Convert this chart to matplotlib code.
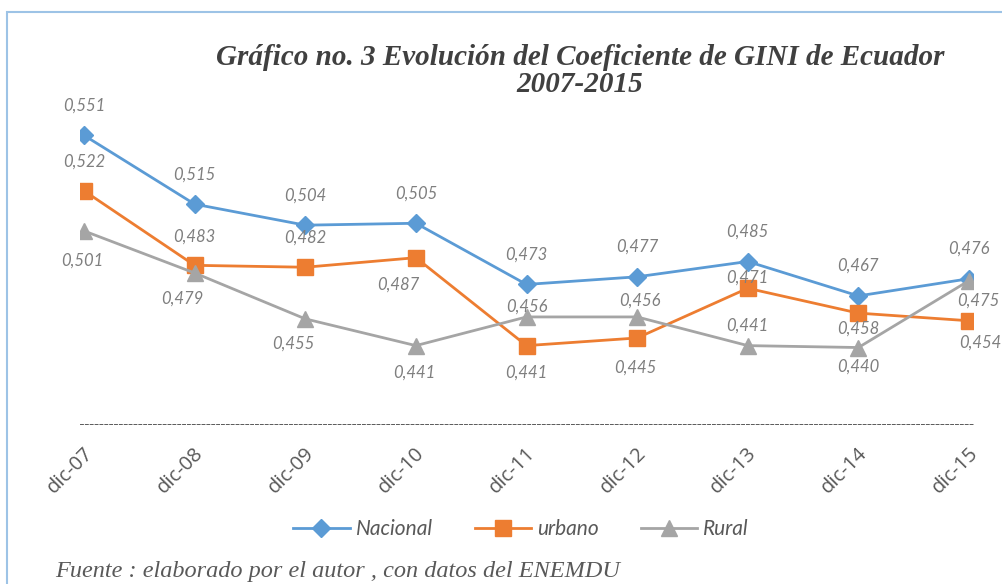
import matplotlib.pyplot as plt
from matplotlib.patches import Rectangle
from matplotlib.transforms import ScaledTranslation

# -----------------------------
# Datos (Coeficiente de GINI, Ecuador)
# -----------------------------
periodos = ["dic-07", "dic-08", "dic-09", "dic-10", "dic-11",
            "dic-12", "dic-13", "dic-14", "dic-15"]
nacional = [0.551, 0.515, 0.504, 0.505, 0.473, 0.477, 0.485, 0.467, 0.476]
urbano = [0.522, 0.483, 0.482, 0.487, 0.441, 0.445, 0.471, 0.458, 0.454]
rural = [0.501, 0.479, 0.455, 0.441, 0.456, 0.456, 0.441, 0.440, 0.475]

# desplazamiento de las etiquetas (pixeles), como en el original
off_nacional = [(0, 30)] * 9
off_urbano = [(0, 29), (0, 29), (0, 30), (-18, -27), (0, -27),
              (-2, -30), (0, 11), (0, -16), (11, -22)]
off_rural = [(-2, -30), (-12, -26), (-12, -25), (-2, -27), (0, 10),
             (3, 16), (0, 20), (0, -19), (9, -20)]

AZUL = "#5B9BD5"
NARANJA = "#ED7D31"
GRIS = "#A5A5A5"
TEXTO = "#595959"
ETIQ = "#7F7F7F"

fig = plt.figure(figsize=(10.03, 5.84), dpi=100)

# marco azul claro
fig.patches.append(Rectangle((7 / 1003, -0.1), 1.2, 1 - 12 / 584 + 0.1,
                             transform=fig.transFigure, fill=False,
                             edgecolor="#9DC3E6", linewidth=1.5))

ax = fig.add_axes([80 / 1003, 1 - 424 / 584, (973 - 80) / 1003, 325 / 584])
x = list(range(len(periodos)))

series = [
    ("Nacional", nacional, AZUL, "D", 9, off_nacional),
    ("urbano", urbano, NARANJA, "s", 12, off_urbano),
    ("Rural", rural, GRIS, "^", 12, off_rural),
]

for nombre, vals, color, marker, ms, offs in series:
    ax.plot(x, vals, color=color, marker=marker, markersize=ms,
            linewidth=2, label=nombre)
    for xi, v, (dx, dy) in zip(x, vals, offs):
        ax.annotate(f"{v:.3f}".replace(".", ","), (xi, v),
                    xytext=(dx, dy), textcoords="offset pixels",
                    ha="center", va="center", fontsize=12,
                    fontstyle="italic", family="Lato", color=ETIQ)

ax.set_xlim(-0.036, len(periodos) - 1 + 0.036)
ax.set_ylim(0.40, 0.57)
ax.set_yticks([])
for lado in ["top", "right", "left"]:
    ax.spines[lado].set_visible(False)
ax.spines["bottom"].set_linestyle((0, (3, 2)))
ax.spines["bottom"].set_color("#595959")
ax.spines["bottom"].set_linewidth(0.7)

ax.set_xticks(x)
ax.set_xticklabels(periodos, rotation=45, ha="right", va="center",
                   rotation_mode="anchor", fontsize=14.5, family="Open Sans",
                   color=TEXTO)
ax.tick_params(axis="x", length=0, pad=19)
desplaza = ScaledTranslation(6 / 100, 0, fig.dpi_scale_trans)
for lab in ax.get_xticklabels():
    lab.set_transform(lab.get_transform() + desplaza)

fig.text(580 / 1003, 1 - 71 / 584,
         "Gráfico no. 3 Evolución del Coeficiente de GINI de Ecuador\n2007-2015",
         ha="center", va="center", fontsize=21, fontweight="bold",
         fontstyle="italic", family="Liberation Serif", color="#404040",
         linespacing=1.0)

leg = fig.legend(loc="center", bbox_to_anchor=(521 / 1003, 55 / 584),
                 ncol=3, frameon=False, handlelength=2.7, handletextpad=0.3,
                 columnspacing=2.0,
                 prop={"family": "Lato", "style": "italic", "size": 15})
for t in leg.get_texts():
    t.set_color(TEXTO)

fig.text(55 / 1003, 7 / 584,
         "Fuente : elaborado por el autor , con datos del ENEMDU",
         ha="left", va="baseline", fontsize=17.5, fontstyle="italic",
         family="Liberation Serif", color=TEXTO)

fig.savefig("out.png", dpi=100)
